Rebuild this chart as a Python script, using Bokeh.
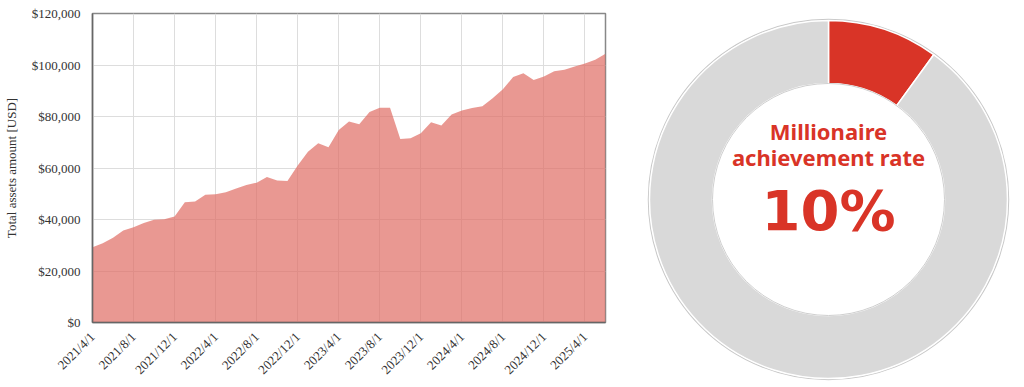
import math
from bokeh.plotting import figure
from bokeh.layouts import row, column
from bokeh.models import Range1d, FixedTicker, NumeralTickFormatter, ColumnDataSource
from bokeh.core.properties import value
from bokeh.embed import file_html
from bokeh.resources import INLINE

# ---- data ----
months = list(range(51))  # 2021/4 .. 2025/6, monthly index
assets = [29200, 30800, 32900, 35700, 37000, 38600, 39900, 40100, 41200, 46700,
          47000, 49600, 49800, 50600, 52000, 53400, 54300, 56500, 55100, 55000,
          61000, 66300, 69600, 68100, 74800, 78100, 77000, 81700, 83400, 83400,
          71300, 71600, 73500, 77800, 76500, 80800, 82300, 83300, 84000, 87100,
          90600, 95300, 96800, 94200, 95500, 97600, 98200, 99400, 100600, 102000,
          104400]
tick_pos = [0, 4, 8, 12, 16, 20, 24, 28, 32, 36, 40, 44, 48]
tick_labels = ["2021/4/1", "2021/8/1", "2021/12/1", "2022/4/1", "2022/8/1", "2022/12/1",
               "2023/4/1", "2023/8/1", "2023/12/1", "2024/4/1", "2024/8/1", "2024/12/1",
               "2025/4/1"]
y_ticks = [0, 20000, 40000, 60000, 80000, 100000, 120000]

donut_labels = ["Achieved", "Remaining"]
donut_values = [10, 90]
donut_colors = ["#D93427", "#D9D9D9"]
center_title = ["Millionaire", "achievement rate"]
center_value = "10%"

SERIF = "Liberation Serif"
H = 387

# ---- left: area chart ----
p = figure(width=620, height=H, output_backend="svg", toolbar_location=None,
           x_range=Range1d(0, 50), y_range=Range1d(0, 120000),
           min_border_left=80, min_border_right=15, min_border_top=13, min_border_bottom=65)
p.varea(x=months, y1=[0] * len(months), y2=assets, fill_color="#E06C64", fill_alpha=0.7)

p.xaxis.ticker = FixedTicker(ticks=tick_pos)
p.xaxis.major_label_overrides = {t: l for t, l in zip(tick_pos, tick_labels)}
p.xaxis.major_label_orientation = math.pi / 4
p.yaxis.ticker = FixedTicker(ticks=y_ticks)
p.yaxis.formatter = NumeralTickFormatter(format="$0,0")
p.yaxis.axis_label = "Total assets amount [USD]"
p.yaxis.axis_label_text_font = SERIF
p.yaxis.axis_label_text_font_style = "normal"
p.yaxis.axis_label_text_font_size = "13px"
p.yaxis.axis_label_text_color = "#333333"
p.yaxis.axis_label_standoff = 10
for ax in (p.xaxis, p.yaxis):
    ax.major_label_text_font = SERIF
    ax.major_label_text_font_size = "13px"
    ax.major_label_text_color = "#333333"
    ax.major_tick_line_color = None
    ax.minor_tick_line_color = None
    ax.axis_line_color = "#666666"
    ax.axis_line_width = 1.5
p.yaxis.major_label_standoff = 6
p.xaxis.major_label_standoff = 6
p.grid.grid_line_color = "#dddddd"
p.grid.grid_line_width = 1
p.outline_line_color = "#888888"
p.outline_line_width = 1.5
p.background_fill_color = "white"
p.border_fill_color = "white"

# ---- right: donut ----
W = 404
q = figure(width=W, height=H, output_backend="svg", toolbar_location=None,
           x_range=Range1d(0, W), y_range=Range1d(0, H),
           min_border=0, min_border_left=0, min_border_right=0,
           min_border_top=0, min_border_bottom=0)
q.axis.visible = False
q.grid.visible = False
q.outline_line_color = None

cx, cy = 208, 188
total = sum(donut_values)
starts, ends = [], []
acc = 0.0
for v in donut_values:
    starts.append(math.pi / 2 - 2 * math.pi * acc / total)
    acc += v
    ends.append(math.pi / 2 - 2 * math.pi * acc / total)
src = ColumnDataSource(dict(label=donut_labels, start=starts, end=ends, color=donut_colors))
q.circle(x=[cx], y=[cy], radius=180, fill_color=None, line_color="#c8c8c8", line_width=1.5)
q.annular_wedge(x=cx, y=cy, inner_radius=116, outer_radius=179,
                start_angle="start", end_angle="end", direction="clock",
                fill_color="color", line_color="white", line_width=1.5, source=src)
q.circle(x=[cx], y=[cy], radius=116, fill_color=None, line_color="#cfcfcf", line_width=1)

q.text(x=[cx, cx], y=[257, 231], text=center_title, text_align="center",
       text_baseline="middle", text_font=value("Noto Sans"), text_font_style="bold",
       text_font_size="22px", text_color="#D93427")
q.text(x=[cx], y=[177], text=[center_value], text_align="center",
       text_baseline="middle", text_font=value("DejaVu Sans"), text_font_style="bold",
       text_font_size="56px", text_color="#D93427")

layout = row(column(p), column(q))
open("out.html", "w").write(file_html(layout, INLINE))
